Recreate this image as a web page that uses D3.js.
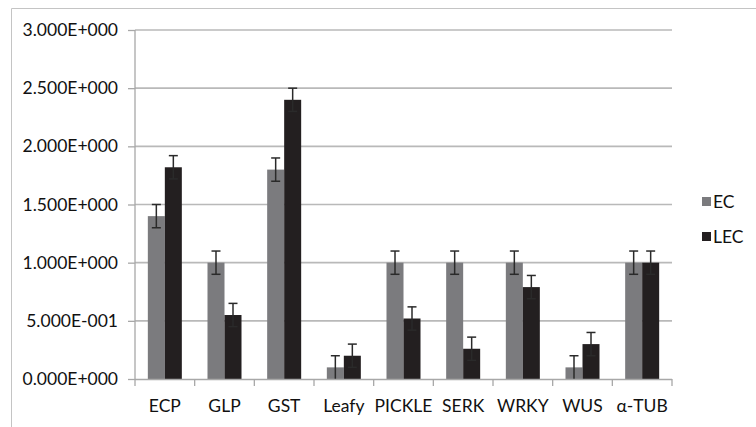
<!DOCTYPE html>
<html>
<head>
<meta charset="utf-8">
<script src="https://cdn.jsdelivr.net/npm/d3@7"></script>
<style>
  html, body { margin: 0; padding: 0; background: #fff; }
  svg { display: block; }
  text { font-family: Lato, "Open Sans", sans-serif; fill: #111; }
</style>
</head>
<body>
<svg id="chart" width="756" height="427"></svg>
<script>
// Relative expression of each gene in EC and LEC tissue
const genes = ["ECP", "GLP", "GST", "Leafy", "PICKLE", "SERK", "WRKY", "WUS", "α-TUB"];
const seriesNames = ["EC", "LEC"];
const ecValues  = [1.40, 1.00, 1.80, 0.10, 1.00, 1.00, 1.00, 0.10, 1.00];
const lecValues = [1.82, 0.55, 2.40, 0.20, 0.52, 0.26, 0.79, 0.30, 1.00];
const ecErrors  = [0.10, 0.10, 0.10, 0.10, 0.10, 0.10, 0.10, 0.10, 0.10];
const lecErrors = [0.10, 0.10, 0.10, 0.10, 0.10, 0.10, 0.10, 0.10, 0.10];
const yTicks = [0, 0.5, 1.0, 1.5, 2.0, 2.5, 3.0];
const seriesColors = ["#7b7b7e", "#231f20"];

const fontSize = 17.5;

// Excel-style scientific notation, e.g. 5.000E-001
function sciFormat(v) {
  if (v === 0) return "0.000E+000";
  const exp = Math.floor(Math.log10(Math.abs(v)));
  const mant = v / Math.pow(10, exp);
  const sign = exp < 0 ? "-" : "+";
  return mant.toFixed(3) + "E" + sign + String(Math.abs(exp)).padStart(3, "0");
}

const svg = d3.select("#chart");

// outer frame
svg.append("path")
  .attr("d", "M11.5,440 V8.5 H760")
  .attr("fill", "none")
  .attr("stroke", "#c4c4c4")
  .attr("stroke-width", 1);

const plot = { left: 135, right: 672, top: 30, bottom: 379 };

const y = d3.scaleLinear().domain([0, 3]).range([plot.bottom, plot.top]);
const x0 = d3.scaleBand().domain(genes).range([plot.left, plot.right]).padding(0);
const bw = x0.bandwidth();
const groupW = 34;
const x1 = d3.scaleBand().domain(seriesNames)
  .range([(bw - groupW) / 2, (bw + groupW) / 2]).padding(0);

// horizontal gridlines
svg.append("g")
  .selectAll("line")
  .data(yTicks.filter(t => t > 0))
  .join("line")
  .attr("x1", plot.left).attr("x2", plot.right)
  .attr("y1", d => y(d)).attr("y2", d => y(d))
  .attr("stroke", "#b9b9b9")
  .attr("stroke-width", 1.6);

// y axis
const yAxis = d3.axisLeft(y).tickValues(yTicks).tickFormat(sciFormat).tickSize(7).tickPadding(10);
const gy = svg.append("g").attr("transform", `translate(${plot.left},0)`).call(yAxis);
gy.select(".domain").attr("stroke", "#a8a8a8").attr("stroke-width", 1.3).attr("d", `M0,${plot.top}V${plot.bottom}`);
gy.selectAll(".tick line").attr("stroke", "#a8a8a8").attr("stroke-width", 1.3);
gy.selectAll(".tick text").attr("font-size", fontSize).attr("fill", "#111")
  .style("font-family", "Lato, 'Open Sans', sans-serif");

// bars
const rows = genes.map((g, i) => ({
  gene: g,
  items: [
    { s: "EC", v: ecValues[i], e: ecErrors[i], c: seriesColors[0] },
    { s: "LEC", v: lecValues[i], e: lecErrors[i], c: seriesColors[1] }
  ]
}));

const groups = svg.append("g")
  .selectAll("g")
  .data(rows)
  .join("g")
  .attr("transform", d => `translate(${x0(d.gene)},0)`);

groups.selectAll("rect")
  .data(d => d.items)
  .join("rect")
  .attr("x", d => x1(d.s))
  .attr("width", x1.bandwidth())
  .attr("y", d => y(d.v))
  .attr("height", d => y(0) - y(d.v))
  .attr("fill", d => d.c);

// x axis
const xAxisG = svg.append("g").attr("transform", `translate(0,${plot.bottom})`);
xAxisG.append("line")
  .attr("x1", plot.left).attr("x2", plot.right)
  .attr("y1", 0.5).attr("y2", 0.5)
  .attr("stroke", "#a8a8a8").attr("stroke-width", 1.3);
const boundaries = genes.map(g => x0(g)).concat([plot.right]);
xAxisG.selectAll("line.tk")
  .data(boundaries)
  .join("line")
  .attr("class", "tk")
  .attr("x1", d => d).attr("x2", d => d)
  .attr("y1", 0).attr("y2", 7)
  .attr("stroke", "#a8a8a8").attr("stroke-width", 1.3);
xAxisG.selectAll("text")
  .data(genes)
  .join("text")
  .attr("x", d => x0(d) + bw / 2)
  .attr("y", 33)
  .attr("text-anchor", "middle")
  .attr("font-size", fontSize)
  .text(d => d);

// error bars
const eb = groups.selectAll("g.err")
  .data(d => d.items)
  .join("g")
  .attr("class", "err")
  .attr("transform", d => `translate(${x1(d.s) + x1.bandwidth() / 2},0)`);
eb.append("line")
  .attr("x1", 0).attr("x2", 0)
  .attr("y1", d => y(Math.max(0, d.v - d.e)))
  .attr("y2", d => y(d.v + d.e));
eb.append("line")
  .attr("x1", -4.5).attr("x2", 4.5)
  .attr("y1", d => y(d.v + d.e)).attr("y2", d => y(d.v + d.e));
eb.filter(d => d.v - d.e > 0).append("line")
  .attr("x1", -4.5).attr("x2", 4.5)
  .attr("y1", d => y(d.v - d.e)).attr("y2", d => y(d.v - d.e));
eb.selectAll("line").attr("stroke", "#2a2a2a").attr("stroke-width", 1.5);

// legend
const legend = svg.append("g")
  .selectAll("g")
  .data(seriesNames)
  .join("g")
  .attr("transform", (d, i) => `translate(702,${202 + i * 35})`);
legend.append("rect")
  .attr("x", 0).attr("y", -5)
  .attr("width", 9).attr("height", 9)
  .attr("fill", (d, i) => seriesColors[i]);
legend.append("text")
  .attr("x", 11).attr("y", 0)
  .attr("dy", "0.35em")
  .attr("font-size", fontSize)
  .text(d => d);
</script>
</body>
</html>
